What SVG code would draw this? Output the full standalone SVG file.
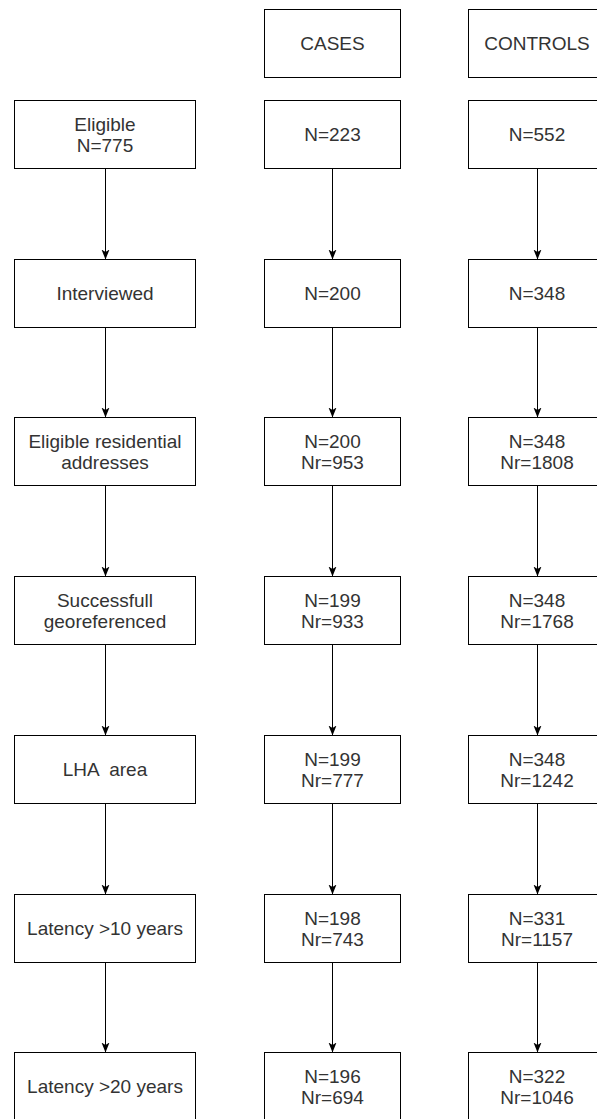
<svg xmlns="http://www.w3.org/2000/svg" width="597" height="1119" viewBox="0 0 597 1119">
<defs>
<style>
.box{fill:#ffffff;stroke:#000000;stroke-width:1}
.t{font-family:"Liberation Sans",Arial,sans-serif;font-size:19px;fill:#333333;text-anchor:middle;white-space:pre}
.c{stroke:#000000;stroke-width:1;fill:none}
</style>
<marker id="arr" markerUnits="userSpaceOnUse" markerWidth="12" markerHeight="10" viewBox="0 0 12 10" refX="10" refY="4" orient="auto">
<path d="M0,0 L10,4 L0,8 L2.5,4 Z" fill="#000000"/>
</marker>
</defs>
<rect width="597" height="1119" fill="#ffffff"/>
<g id="connectors">
<line class="c" x1="105.5" y1="168.5" x2="105.5" y2="259.5" marker-end="url(#arr)"/>
<line class="c" x1="105.5" y1="327.5" x2="105.5" y2="417.5" marker-end="url(#arr)"/>
<line class="c" x1="105.5" y1="485.5" x2="105.5" y2="576.5" marker-end="url(#arr)"/>
<line class="c" x1="105.5" y1="644.5" x2="105.5" y2="735.5" marker-end="url(#arr)"/>
<line class="c" x1="105.5" y1="803.5" x2="105.5" y2="894.5" marker-end="url(#arr)"/>
<line class="c" x1="105.5" y1="962.5" x2="105.5" y2="1052.5" marker-end="url(#arr)"/>
<line class="c" x1="332.5" y1="168.5" x2="332.5" y2="259.5" marker-end="url(#arr)"/>
<line class="c" x1="332.5" y1="327.5" x2="332.5" y2="417.5" marker-end="url(#arr)"/>
<line class="c" x1="332.5" y1="485.5" x2="332.5" y2="576.5" marker-end="url(#arr)"/>
<line class="c" x1="332.5" y1="644.5" x2="332.5" y2="735.5" marker-end="url(#arr)"/>
<line class="c" x1="332.5" y1="803.5" x2="332.5" y2="894.5" marker-end="url(#arr)"/>
<line class="c" x1="332.5" y1="962.5" x2="332.5" y2="1052.5" marker-end="url(#arr)"/>
<line class="c" x1="537.5" y1="168.5" x2="537.5" y2="259.5" marker-end="url(#arr)"/>
<line class="c" x1="537.5" y1="327.5" x2="537.5" y2="417.5" marker-end="url(#arr)"/>
<line class="c" x1="537.5" y1="485.5" x2="537.5" y2="576.5" marker-end="url(#arr)"/>
<line class="c" x1="537.5" y1="644.5" x2="537.5" y2="735.5" marker-end="url(#arr)"/>
<line class="c" x1="537.5" y1="803.5" x2="537.5" y2="894.5" marker-end="url(#arr)"/>
<line class="c" x1="537.5" y1="962.5" x2="537.5" y2="1052.5" marker-end="url(#arr)"/>
</g>
<g id="cases-header"><rect class="box" x="264.5" y="9.5" width="136" height="68"/><text class="t" x="332.5" y="50">CASES</text></g>
<g id="controls-header"><rect class="box" x="468.5" y="9.5" width="138" height="68"/><text class="t" x="537" y="50">CONTROLS</text></g>

<g id="eligible"><rect class="box" x="14.5" y="100.5" width="181" height="68"/><text class="t" x="105" y="130.5">Eligible</text><text class="t" x="105" y="151.5">N=775</text></g>
<g id="cases-1"><rect class="box" x="264.5" y="100.5" width="136" height="68"/><text class="t" x="332.5" y="141">N=223</text></g>
<g id="controls-1"><rect class="box" x="468.5" y="100.5" width="138" height="68"/><text class="t" x="537" y="141">N=552</text></g>

<g id="interviewed"><rect class="box" x="14.5" y="259.5" width="181" height="68"/><text class="t" x="105" y="300">Interviewed</text></g>
<g id="cases-2"><rect class="box" x="264.5" y="259.5" width="136" height="68"/><text class="t" x="332.5" y="300">N=200</text></g>
<g id="controls-2"><rect class="box" x="468.5" y="259.5" width="138" height="68"/><text class="t" x="537" y="300">N=348</text></g>

<g id="addresses"><rect class="box" x="14.5" y="417.5" width="181" height="68"/><text class="t" x="105" y="447.5">Eligible residential</text><text class="t" x="105" y="468.5">addresses</text></g>
<g id="cases-3"><rect class="box" x="264.5" y="417.5" width="136" height="68"/><text class="t" x="332.5" y="447.5">N=200</text><text class="t" x="332.5" y="468.5">Nr=953</text></g>
<g id="controls-3"><rect class="box" x="468.5" y="417.5" width="138" height="68"/><text class="t" x="537" y="447.5">N=348</text><text class="t" x="537" y="468.5">Nr=1808</text></g>

<g id="georeferenced"><rect class="box" x="14.5" y="576.5" width="181" height="68"/><text class="t" x="105" y="606.5">Successfull</text><text class="t" x="105" y="627.5">georeferenced</text></g>
<g id="cases-4"><rect class="box" x="264.5" y="576.5" width="136" height="68"/><text class="t" x="332.5" y="606.5">N=199</text><text class="t" x="332.5" y="627.5">Nr=933</text></g>
<g id="controls-4"><rect class="box" x="468.5" y="576.5" width="138" height="68"/><text class="t" x="537" y="606.5">N=348</text><text class="t" x="537" y="627.5">Nr=1768</text></g>

<g id="lha"><rect class="box" x="14.5" y="735.5" width="181" height="68"/><text class="t" x="105" y="776">LHA  area</text></g>
<g id="cases-5"><rect class="box" x="264.5" y="735.5" width="136" height="68"/><text class="t" x="332.5" y="765.5">N=199</text><text class="t" x="332.5" y="786.5">Nr=777</text></g>
<g id="controls-5"><rect class="box" x="468.5" y="735.5" width="138" height="68"/><text class="t" x="537" y="765.5">N=348</text><text class="t" x="537" y="786.5">Nr=1242</text></g>

<g id="latency10"><rect class="box" x="14.5" y="894.5" width="181" height="68"/><text class="t" x="105" y="935">Latency &gt;10 years</text></g>
<g id="cases-6"><rect class="box" x="264.5" y="894.5" width="136" height="68"/><text class="t" x="332.5" y="924.5">N=198</text><text class="t" x="332.5" y="945.5">Nr=743</text></g>
<g id="controls-6"><rect class="box" x="468.5" y="894.5" width="138" height="68"/><text class="t" x="537" y="924.5">N=331</text><text class="t" x="537" y="945.5">Nr=1157</text></g>

<g id="latency20"><rect class="box" x="14.5" y="1052.5" width="181" height="68"/><text class="t" x="105" y="1093">Latency &gt;20 years</text></g>
<g id="cases-7"><rect class="box" x="264.5" y="1052.5" width="136" height="68"/><text class="t" x="332.5" y="1082.5">N=196</text><text class="t" x="332.5" y="1103.5">Nr=694</text></g>
<g id="controls-7"><rect class="box" x="468.5" y="1052.5" width="138" height="68"/><text class="t" x="537" y="1082.5">N=322</text><text class="t" x="537" y="1103.5">Nr=1046</text></g>
</svg>
